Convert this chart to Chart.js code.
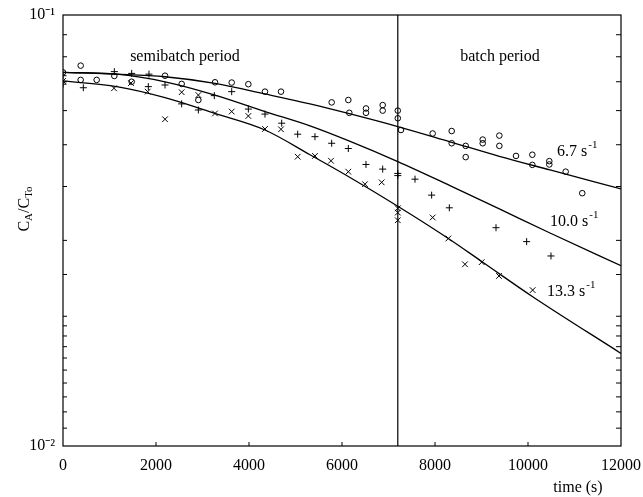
<!DOCTYPE html>
<html>
<head>
<meta charset="utf-8">
<script src="https://cdn.jsdelivr.net/npm/chart.js@4/dist/chart.umd.min.js"></script>
<style>
  html, body { margin: 0; padding: 0; background: #fff; }
  #wrap { width: 643px; height: 497px; position: relative; }
</style>
</head>
<body>
<div id="wrap"><canvas id="c" width="643" height="497"></canvas></div>
<script>
// ---- data ----
const xTickValues = [0, 2000, 4000, 6000, 8000, 10000, 12000];
const yTickLabels = { "0.1": "10\u207B\u00B9", "0.01": "10\u207B\u00B2" };

const circleT = [0, 380, 380, 724, 1104, 1477, 2194, 2552, 2911, 3269, 3628, 3986, 4344, 4688, 5778, 6136, 6157, 6516, 6516, 6875, 6875, 7200, 7200, 7268, 7950, 8359, 8359, 8660, 8660, 9026, 9026, 9384, 9384, 9742, 10093, 10093, 10458, 10458, 10810, 11167];
const circleV = [0.0736, 0.0763, 0.0707, 0.0707, 0.0722, 0.0700, 0.0723, 0.0692, 0.0635, 0.0698, 0.0697, 0.0691, 0.0664, 0.0664, 0.0627, 0.0635, 0.0593, 0.0607, 0.0593, 0.0618, 0.0600, 0.0600, 0.0576, 0.0541, 0.0531, 0.0538, 0.0504, 0.0497, 0.0468, 0.0514, 0.0504, 0.0525, 0.0497, 0.0471, 0.0474, 0.0449, 0.0458, 0.0450, 0.0433, 0.0386];

const plusT = [0, 0, 437, 1104, 1477, 1849, 1835, 2194, 2552, 2911, 3254, 3628, 3986, 4344, 4703, 5047, 5419, 5778, 6136, 6516, 6875, 7200, 7200, 7570, 7928, 8308, 9312, 9971, 10494];
const plusV = [0.0723, 0.0691, 0.0678, 0.0739, 0.0732, 0.0729, 0.0682, 0.0688, 0.0622, 0.0602, 0.0650, 0.0664, 0.0605, 0.0589, 0.0561, 0.0529, 0.0522, 0.0504, 0.0490, 0.0450, 0.0439, 0.0429, 0.0424, 0.0416, 0.0382, 0.0357, 0.0321, 0.0298, 0.0276];

const crossT = [0, 1097, 1462, 1821, 2194, 2552, 2911, 3269, 3628, 3986, 4344, 4688, 5047, 5419, 5763, 6136, 6494, 6853, 7200, 7200, 7200, 7950, 8287, 8645, 9004, 9376, 10100];
const crossV = [0.0703, 0.0676, 0.0695, 0.0664, 0.0573, 0.0662, 0.0652, 0.0591, 0.0597, 0.0583, 0.0544, 0.0543, 0.0469, 0.0471, 0.0459, 0.0433, 0.0405, 0.0409, 0.0356, 0.0348, 0.0334, 0.0339, 0.0303, 0.0264, 0.0267, 0.0248, 0.0230];

const curve67T = [0, 1155, 2194, 3269, 4344, 5312, 6136, 7200, 8322, 9384, 10473, 12000];
const curve67V = [0.0736, 0.0729, 0.0719, 0.0694, 0.0656, 0.0622, 0.0591, 0.0551, 0.0508, 0.0470, 0.0437, 0.0395];

const curve100T = [0, 1155, 2194, 3269, 4344, 5312, 6136, 7200, 8322, 9384, 10473, 12000];
const curve100V = [0.0736, 0.0729, 0.0700, 0.0652, 0.0597, 0.0553, 0.0511, 0.0457, 0.0402, 0.0355, 0.0312, 0.0262];

const curve133T = [0, 1155, 2194, 3269, 4344, 5312, 6136, 7200, 8287, 9004, 10100, 12000];
const curve133V = [0.0703, 0.0682, 0.0643, 0.0591, 0.0541, 0.0474, 0.0422, 0.0360, 0.0303, 0.0268, 0.0222, 0.0164];

const periodSwitchT = 7200;
const curveLabels = ["6.7 s", "10.0 s", "13.3 s"];
const periodLabels = ["semibatch period", "batch period"];

// ---- helpers ----
const pts = (t, v) => t.map((x, i) => ({ x: x, y: v[i] }));
const FONT = "'Liberation Serif', 'Times New Roman', serif";

const lineDs = (t, v) => ({
  type: 'line', data: pts(t, v), borderColor: '#000', borderWidth: 1.3,
  pointRadius: 0, fill: false, cubicInterpolationMode: 'monotone', order: 1
});
const scatterDs = (t, v, style, r) => ({
  type: 'scatter', data: pts(t, v), pointStyle: style, pointRadius: r,
  borderColor: '#000', backgroundColor: 'rgba(0,0,0,0)', pointBorderWidth: 1, order: 2
});

const decorPlugin = {
  id: 'decor',
  afterDraw(chart) {
    const ctx = chart.ctx, a = chart.chartArea;
    const xs = chart.scales.x, ys = chart.scales.y;
    ctx.save();
    ctx.strokeStyle = '#000';
    ctx.lineWidth = 1.2;
    ctx.strokeRect(a.left, a.top, a.right - a.left, a.bottom - a.top);
    // inward ticks on y (left and right)
    ctx.lineWidth = 1;
    ys.ticks.forEach(tk => {
      const v = tk.value;
      if (v <= 0.0100001 || v >= 0.0999999) return;
      const py = ys.getPixelForValue(v);
      ctx.beginPath();
      ctx.moveTo(a.left, py); ctx.lineTo(a.left + 4, py);
      ctx.moveTo(a.right, py); ctx.lineTo(a.right - 5, py);
      ctx.stroke();
    });
    xs.ticks.forEach(tk => {
      const v = tk.value;
      if (v <= 0 || v >= 12000) return;
      const px = xs.getPixelForValue(v);
      ctx.beginPath();
      ctx.moveTo(px, a.bottom); ctx.lineTo(px, a.bottom - 4);
      ctx.stroke();
    });
    // texts
    ctx.fillStyle = '#000';
    ctx.textBaseline = 'middle';
    ctx.font = '16px ' + FONT;
    ctx.textAlign = 'center';
    ctx.fillText(periodLabels[0], 185, 57);
    ctx.fillText(periodLabels[1], 500, 57);
    ctx.fillText('time (s)', 578, 488);

    // curve labels with superscript -1
    const lab = (txt, x, y) => {
      ctx.textAlign = 'left';
      ctx.font = '16px ' + FONT;
      ctx.fillText(txt, x, y);
      const w = ctx.measureText(txt).width;
      ctx.font = '11px ' + FONT;
      ctx.fillText('-1', w + x + 1, y - 7);
    };
    lab(curveLabels[0], 557, 152);
    lab(curveLabels[1], 550, 222);
    lab(curveLabels[2], 547, 292);

    // y-axis title C_A / C_To (rotated)
    ctx.translate(25, 209);
    ctx.rotate(-Math.PI / 2);
    const parts = [['C', 16, 0], ['A', 11, 4], ['/C', 16, 0], ['To', 11, 4]];
    let total = 0;
    parts.forEach(p => { ctx.font = p[1] + 'px ' + FONT; total += ctx.measureText(p[0]).width; });
    let x = -total / 2;
    ctx.textAlign = 'left';
    parts.forEach(p => {
      ctx.font = p[1] + 'px ' + FONT;
      ctx.fillText(p[0], x, p[2]);
      x += ctx.measureText(p[0]).width;
    });
    ctx.restore();
  }
};

new Chart(document.getElementById('c'), {
  data: {
    datasets: [
      lineDs(curve67T, curve67V),
      lineDs(curve100T, curve100V),
      lineDs(curve133T, curve133V),
      { type: 'line', data: [{ x: periodSwitchT, y: 0.01 }, { x: periodSwitchT, y: 0.1 }],
        borderColor: '#000', borderWidth: 1.2, pointRadius: 0, order: 1 },
      scatterDs(circleT, circleV, 'circle', 2.8),
      scatterDs(plusT, plusV, 'cross', 3.5),
      scatterDs(crossT, crossV, 'crossRot', 4)
    ]
  },
  options: {
    responsive: false,
    animation: false,
    devicePixelRatio: 1,
    layout: { padding: { top: 15, right: 22, left: 0, bottom: 0 } },
    plugins: { legend: { display: false }, tooltip: { enabled: false } },
    scales: {
      x: {
        type: 'linear', min: 0, max: 12000,
        afterBuildTicks: s => { s.ticks = xTickValues.map(v => ({ value: v })); },
        afterFit: s => { s.height = 51; },
        grid: { display: false },
        border: { display: false },
        ticks: { color: '#000', font: { family: FONT, size: 16 }, padding: 2, maxRotation: 0,
                 callback: v => String(v) }
      },
      y: {
        type: 'logarithmic', min: 0.01, max: 0.1,
        afterFit: s => { s.width = 63; },
        grid: { display: false },
        border: { display: false },
        ticks: {
          color: '#000', font: { family: FONT, size: 16 }, padding: 0, autoSkip: false,
          callback: v => {
            const l = Math.log10(v);
            if (Math.abs(l + 1) < 1e-6) return yTickLabels["0.1"];
            if (Math.abs(l + 2) < 1e-6) return yTickLabels["0.01"];
            return '';
          }
        }
      }
    }
  },
  plugins: [decorPlugin]
});
</script>
</body>
</html>
